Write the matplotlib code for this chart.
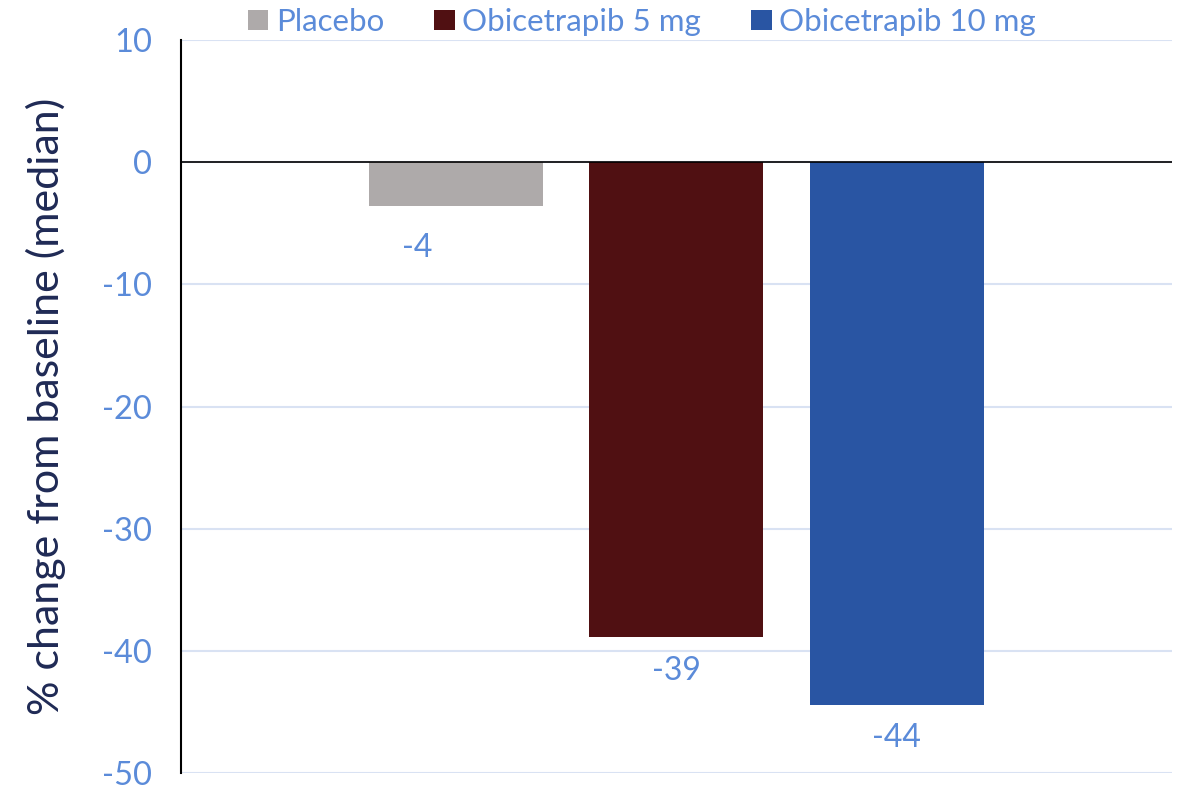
import matplotlib.pyplot as plt
from matplotlib.patches import Patch

# Median % change from baseline by treatment arm
groups = ['Placebo', 'Obicetrapib 5 mg', 'Obicetrapib 10 mg']
median_change = [-3.6, -38.9, -44.4]
bar_colors = ['#AEAAAA', '#501012', '#2955A3']

# value label nudges (points): the placebo label sits left and lower
label_dx = [-28, 0, 0]
label_dy = [-30, -24, -24]

TICK_BLUE = '#5B8BD9'
NAVY = '#1F2A55'
GRID = '#D9E2F3'

plt.rcParams['font.family'] = ['Lato', 'DejaVu Sans']
plt.rcParams['axes.unicode_minus'] = False

fig = plt.figure(figsize=(11.86, 7.88), dpi=100)
ax = fig.add_axes([0.1526, 0.019, 0.988 - 0.1526, 0.949 - 0.019])

x = range(len(groups))
bars = ax.bar(x, median_change, width=0.79, color=bar_colors, zorder=3)

for rect, v, dx, dy in zip(bars, median_change, label_dx, label_dy):
    ax.annotate(f'{v:.0f}', (rect.get_x() + rect.get_width() / 2, v),
                xytext=(dx, dy), textcoords='offset points',
                ha='center', va='center', fontsize=23, color=TICK_BLUE)

ax.set_xlim(-1.25, 3.25)
ax.set_ylim(-50, 10)
ax.set_yticks(range(-50, 11, 10))
ax.set_xticks([])
ax.tick_params(axis='y', length=0, pad=21, labelsize=23.5, labelcolor=TICK_BLUE)
ax.yaxis.grid(True, color=GRID, linewidth=1.5, zorder=0)
ax.axhline(0, color='black', linewidth=1.2, zorder=4)

for s in ['top', 'right', 'bottom']:
    ax.spines[s].set_visible(False)
ax.spines['left'].set_color('black')
ax.spines['left'].set_linewidth(1.5)

ax.set_ylabel('% change from baseline (median)', fontsize=31, color=NAVY, labelpad=26)

handles = [Patch(facecolor=c, label=g) for g, c in zip(groups, bar_colors)]
leg = fig.legend(handles=handles, loc='center', bbox_to_anchor=(642 / 1186, 1 - 22 / 788),
                 ncol=3, frameon=False, fontsize=22.5, handlelength=0.65, handleheight=0.65,
                 handletextpad=0.25, columnspacing=1.6)
for t in leg.get_texts():
    t.set_color(TICK_BLUE)

fig.savefig('out.png', dpi=100)
